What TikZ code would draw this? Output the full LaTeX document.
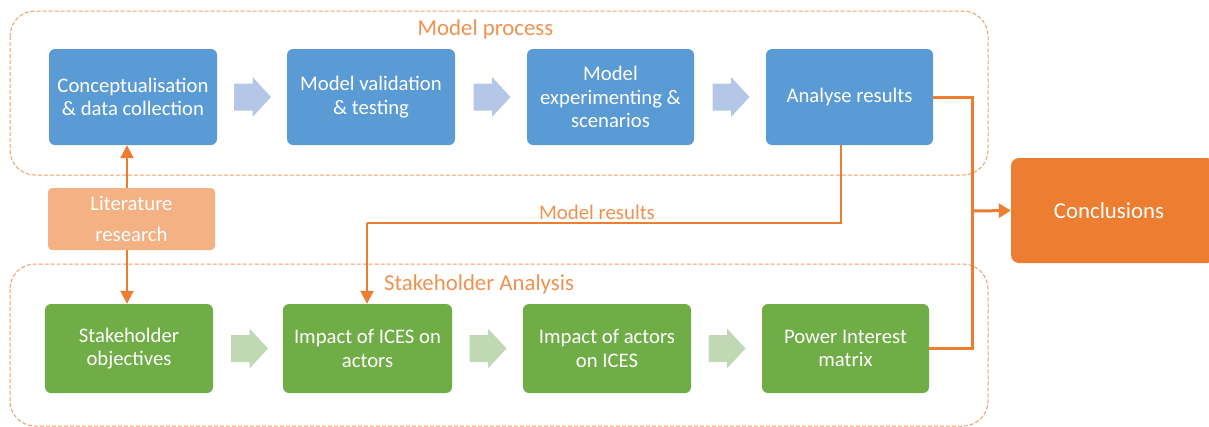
\documentclass[tikz,border=0pt]{standalone}
\usepackage{fontspec}
\setmainfont{Carlito}
\usetikzlibrary{arrows.meta}
\definecolor{blu}{HTML}{5B9BD5}
\definecolor{grn}{HTML}{70AD47}
\definecolor{org}{HTML}{ED7D31}
\definecolor{lorg}{HTML}{F4B183}
\definecolor{lblu}{HTML}{B4C7E7}
\definecolor{lgrn}{HTML}{C0D9B4}
\tikzset{
  box/.style={rounded corners=6pt, text=white, align=center, inner sep=0pt,
    font=\fontsize{20.7}{23.5}\selectfont},
  container/.style={draw=org!75, dashed, dash pattern=on 4pt off 2pt, line width=1pt, rounded corners=25pt},
  lbl/.style={text=org!85, font=\fontsize{22.8}{26}\selectfont, inner sep=0pt},
  conn/.style={draw=org, line width=2pt},
  bigconn/.style={draw=org, line width=3pt},
  tip/.style={-{Triangle[width=13pt,length=13pt]}},
}
\newcommand\blkarrow[3]{\fill[#3, shift={(#1,#2)}] (-18.5,-13.5) -- (0,-13.5) -- (0,-20) -- (18.5,0) -- (0,20) -- (0,13.5) -- (-18.5,13.5) -- cycle;}
\begin{document}
\begin{tikzpicture}[x=1pt,y=-1pt]
\useasboundingbox (0,0) rectangle (1209,426);
% containers
\draw[container] (10,11) rectangle (988,175);
\draw[container] (10,264) rectangle (988,426);
\node[lbl] (mp) at (485.5,29) {Model process};
\node[lbl] (sa) at (479,284) {Stakeholder Analysis};
% blue boxes
\node[box, fill=blu, minimum width=168pt, minimum height=96pt] (b1) at (133,97) {Conceptualisation\\\& data collection};
\node[box, fill=blu, minimum width=168pt, minimum height=96pt] (b2) at (371,97) {Model validation\\\& testing};
\node[box, fill=blu, minimum width=167pt, minimum height=96pt] (b3) at (610.5,97) {Model\\experimenting \&\\scenarios};
\node[box, fill=blu, minimum width=167pt, minimum height=96pt] (b4) at (849.5,97) {Analyse results};
% green boxes
\node[box, fill=grn, minimum width=168pt, minimum height=89pt] (g1) at (129,348.5) {Stakeholder\\objectives};
\node[box, fill=grn, minimum width=169pt, minimum height=89pt] (g2) at (367.5,348.5) {Impact of ICES on\\actors};
\node[box, fill=grn, minimum width=168pt, minimum height=89pt] (g3) at (607,348.5) {Impact of actors\\on ICES};
\node[box, fill=grn, minimum width=167pt, minimum height=89pt] (g4) at (845.5,348.5) {Power Interest\\matrix};
% literature
\node[box, fill=lorg, rounded corners=4pt, minimum width=167pt, minimum height=62pt, font=\fontsize{20.7}{31}\selectfont] (lit) at (131.5,219) {Literature\\research};
% conclusions
\node[box, fill=org, rounded corners=8pt, minimum width=204pt, minimum height=105pt, font=\fontsize{22.8}{26}\selectfont] (con) at (1113,210.5) {\hspace*{-4pt}Conclusions\hspace*{4pt}};
% block arrows
\blkarrow{252.5}{97}{lblu}
\blkarrow{492}{97}{lblu}
\blkarrow{731}{97}{lblu}
\blkarrow{249.5}{348.5}{lgrn}
\blkarrow{488}{348.5}{lgrn}
\blkarrow{727}{348.5}{lgrn}
% literature connectors
\coordinate (lx) at (127,219);
\draw[conn, tip] (lx |- lit.north) -- (lx |- b1.south);
\draw[conn, tip] (lx |- lit.south) -- (lx |- g1.north);
% model results
\coordinate (m1) at (841,223);
\coordinate (m2) at (367,223);
\draw[conn] (m1 |- b4.south) -- (m1) -- (m2);
\draw[conn, tip] (m2) -- (m2 |- g2.north);
\node[lbl, font=\fontsize{20.8}{24}\selectfont] (mr) at (597,212) {Model results};
% to conclusions
\coordinate (j) at (972,211);
\draw[bigconn] (b4.east) -- (j |- b4.east) -- (j |- g4.east) -- (g4.east);
\draw[bigconn, -{Triangle[width=14pt,length=12pt]}] (j) -- (con.west);
\end{tikzpicture}
\end{document}
